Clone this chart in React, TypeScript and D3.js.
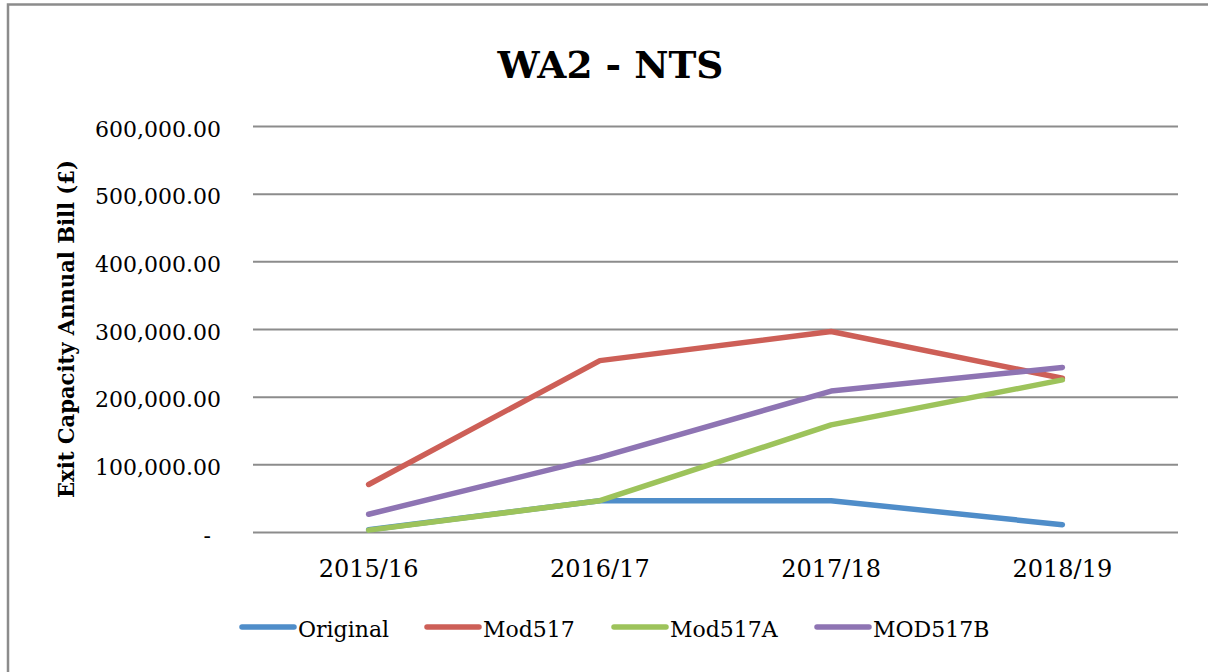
import React from "react";
import * as d3 from "d3";

const categories = ["2015/16", "2016/17", "2017/18", "2018/19"];
const seriesNames = ["Original", "Mod517", "Mod517A", "MOD517B"];
const original = [4000, 47000, 47000, 11500];
const mod517 = [71000, 254000, 297000, 228000];
const mod517A = [3500, 47000, 159000, 225500];
const mod517B = [27000, 111000, 209000, 244000];
const yTicks = [0, 100000, 200000, 300000, 400000, 500000, 600000];
const yTickLabels = ["-", "100,000.00", "200,000.00", "300,000.00", "400,000.00", "500,000.00", "600,000.00"];
const colors = ["#4F8DC9", "#CD5F57", "#9DC35B", "#8E74B3"];

const W = 1208;
const H = 672;
const plotL = 253;
const plotR = 1178;
const plotT = 126.5;
const plotB = 532.5;
const legendX = [240, 425, 612, 815];
const FONT = "'DejaVu Serif', serif";

export default function App() {
  const x = d3.scaleBand<string>().domain(categories).range([plotL, plotR]).padding(0);
  const y = d3.scaleLinear().domain([0, 600000]).range([plotB, plotT]);
  const allSeries = [original, mod517, mod517A, mod517B];
  const line = d3
    .line<number>()
    .x((_, i) => (x(categories[i]) as number) + x.bandwidth() / 2)
    .y((d) => y(d));

  return (
    <svg
      width={W}
      height={H}
      style={{ position: "absolute", left: 0, top: 0, background: "#fff" }}
    >
      <rect x={0} y={0} width={W} height={H} fill="#fff" />
      <rect x={8} y={4.5} width={1300} height={800} fill="none" stroke="#8c8c8c" strokeWidth={2.5} />
      <text
        x={610.5}
        y={78}
        textAnchor="middle"
        fontFamily={FONT}
        fontWeight="bold"
        fontSize={37.5}
        fill="#000"
      >
        WA2 - NTS
      </text>
      {yTicks.map((t, i) => (
        <g key={t}>
          <line x1={plotL} x2={plotR} y1={y(t)} y2={y(t)} stroke="#8c8c8c" strokeWidth={2} />
          <text
            x={t === 0 ? 211 : 221}
            y={y(t) + 10}
            textAnchor="end"
            fontFamily={FONT}
            fontSize={22}
            fill="#000"
          >
            {yTickLabels[i]}
          </text>
        </g>
      ))}
      <text
        transform={`translate(74, 329) rotate(-90)`}
        textAnchor="middle"
        fontFamily={FONT}
        fontWeight="bold"
        fontSize={21.5}
        textLength={338}
        lengthAdjust="spacingAndGlyphs"
        fill="#000"
      >
        Exit Capacity Annual Bill (£)
      </text>
      {categories.map((c) => (
        <text
          key={c}
          x={(x(c) as number) + x.bandwidth() / 2}
          y={577}
          textAnchor="middle"
          fontFamily={FONT}
          fontSize={24}
          fill="#000"
        >
          {c}
        </text>
      ))}
      {allSeries.map((s, i) => (
        <path
          key={seriesNames[i]}
          d={line(s) || ""}
          fill="none"
          stroke={colors[i]}
          strokeWidth={5.5}
          strokeLinecap="round"
          strokeLinejoin="round"
        />
      ))}
      {seriesNames.map((n, i) => (
        <g key={n}>
          <line
            x1={legendX[i] + 2}
            x2={legendX[i] + 54}
            y1={627}
            y2={627}
            stroke={colors[i]}
            strokeWidth={5.5}
            strokeLinecap="round"
          />
          <text x={legendX[i] + 58} y={637} fontFamily={FONT} fontSize={22} fill="#000">
            {n}
          </text>
        </g>
      ))}
    </svg>
  );
}
